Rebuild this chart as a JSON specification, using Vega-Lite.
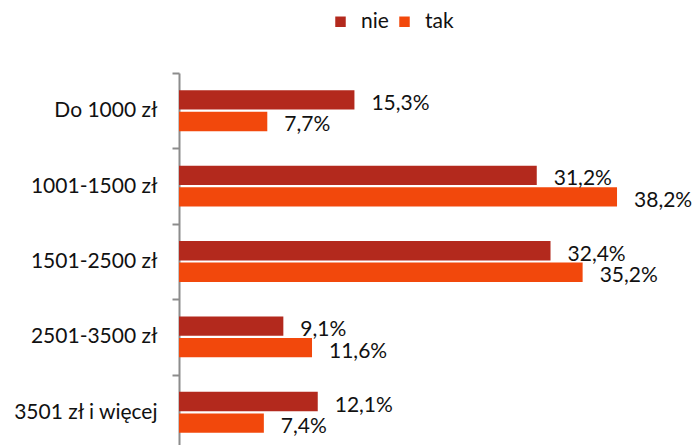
{
  "$schema": "https://vega.github.io/schema/vega-lite/v6.json",
  "autosize": "none",
  "padding": {"left": 179, "top": 73, "right": 0, "bottom": 0},
  "width": 516,
  "height": 377,
  "background": "white",
  "config": {
    "font": "Lato",
    "view": {"stroke": null}
  },
  "data": {
    "values": [
      {"kategoria": "Do 1000 zł", "seria": "nie", "wartosc": 15.3, "etykieta": "15,3%"},
      {"kategoria": "Do 1000 zł", "seria": "tak", "wartosc": 7.7, "etykieta": "7,7%"},
      {"kategoria": "1001-1500 zł", "seria": "nie", "wartosc": 31.2, "etykieta": "31,2%"},
      {"kategoria": "1001-1500 zł", "seria": "tak", "wartosc": 38.2, "etykieta": "38,2%"},
      {"kategoria": "1501-2500 zł", "seria": "nie", "wartosc": 32.4, "etykieta": "32,4%"},
      {"kategoria": "1501-2500 zł", "seria": "tak", "wartosc": 35.2, "etykieta": "35,2%"},
      {"kategoria": "2501-3500 zł", "seria": "nie", "wartosc": 9.1, "etykieta": "9,1%"},
      {"kategoria": "2501-3500 zł", "seria": "tak", "wartosc": 11.6, "etykieta": "11,6%"},
      {"kategoria": "3501 zł i więcej", "seria": "nie", "wartosc": 12.1, "etykieta": "12,1%"},
      {"kategoria": "3501 zł i więcej", "seria": "tak", "wartosc": 7.4, "etykieta": "7,4%"}
    ]
  },
  "encoding": {
    "y": {
      "field": "kategoria", "type": "nominal", "sort": null,
      "scale": {"paddingInner": 0, "paddingOuter": 0},
      "axis": {
        "title": null, "tickBand": "extent", "domainColor": "#8c8c8c", "domainWidth": 2,
        "tickColor": "#8c8c8c", "tickWidth": 2, "tickSize": 7, "labelPadding": 15,
        "labelFontSize": 21, "labelColor": "#111111", "labelFont": "Lato"
      }
    },
    "yOffset": {"field": "seria", "type": "nominal", "scale": {"paddingInner": 0.1, "paddingOuter": 0.8}},
    "x": {
      "field": "wartosc", "type": "quantitative",
      "scale": {"domain": [0, 45], "nice": false},
      "axis": null
    }
  },
  "layer": [
    {
      "mark": {"type": "bar"},
      "encoding": {
        "color": {
          "field": "seria", "type": "nominal",
          "scale": {"domain": ["nie", "tak"], "range": ["#B3291D", "#F2480C"]},
          "legend": {
            "title": null, "orient": "none", "direction": "horizontal",
            "legendX": 151, "legendY": -62, "symbolType": "square", "symbolSize": 110,
            "symbolStrokeWidth": 0, "labelFontSize": 21, "labelFont": "Lato", "labelColor": "#111111",
            "labelOffset": 10, "columnPadding": 5
          }
        }
      }
    },
    {
      "mark": {"type": "text", "align": "left", "baseline": "middle", "dx": 17, "dy": 4, "fontSize": 21, "font": "Lato", "color": "#111111"},
      "encoding": {"text": {"field": "etykieta"}}
    }
  ]
}
